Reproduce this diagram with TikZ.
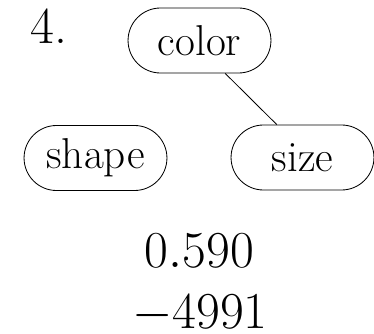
\documentclass[tikz,border=0pt]{standalone}
\usetikzlibrary{shapes.misc}
\begin{document}
\begin{tikzpicture}[x=0.48pt,y=-0.48pt,
  leaf/.style={draw, rounded rectangle, minimum width=68.6pt, minimum height=31.2pt, inner sep=0pt, font=\huge},
  num/.style={font=\Huge, inner sep=0pt, anchor=base}]
\useasboundingbox (0,0) rectangle (374,334);
\node[num, anchor=base west] (label) at (30.5,44) {4.};
\node[leaf] (color) at (199.5,40.5) {color};
\node[leaf] (shape) at (95.5,158) {shape};
\node[leaf] (size) at (302.5,157.5) {size};
\draw (color.-52) -- (size.128);
\node[num] (v1) at (199.5,267.5) {$0.590$};
\node[num] (v2) at (200,328.5) {$-4991$};
\end{tikzpicture}
\end{document}
